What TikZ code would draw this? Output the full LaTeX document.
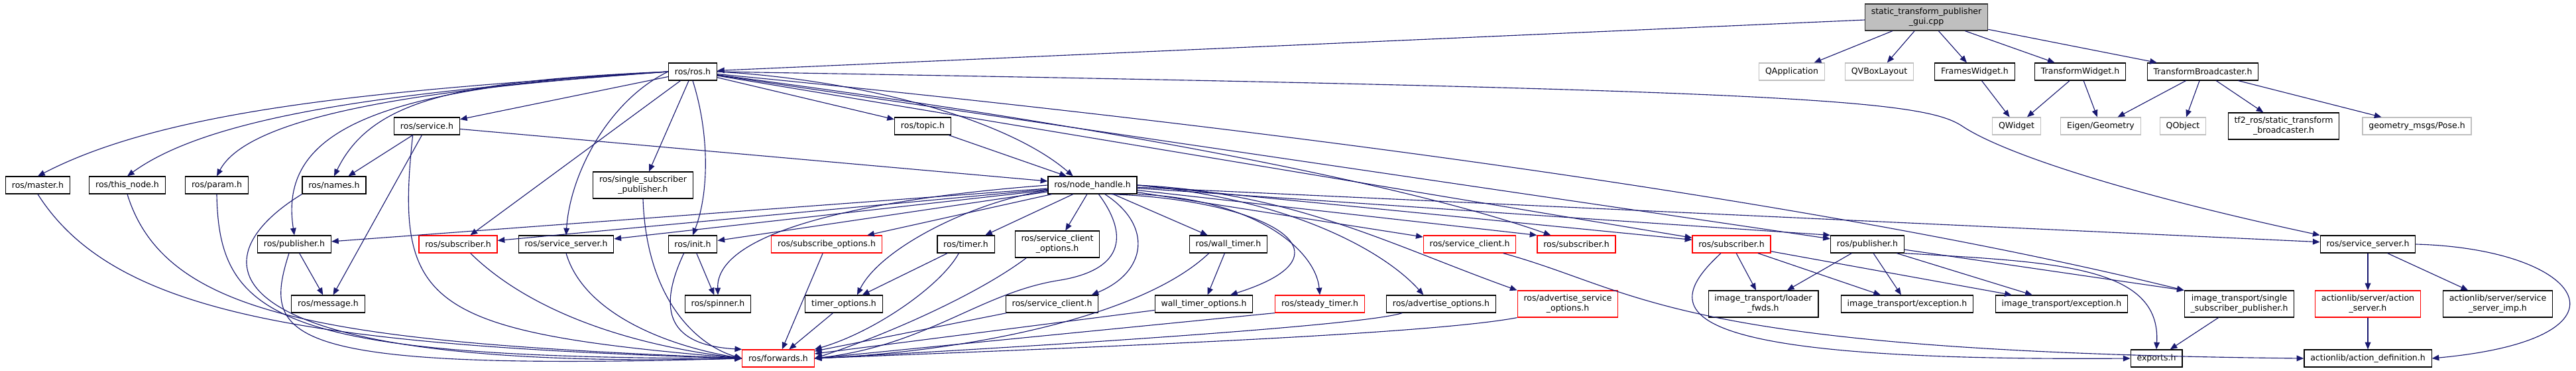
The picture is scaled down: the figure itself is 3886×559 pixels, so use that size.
\documentclass[tikz,border=0pt]{standalone}
\usepackage{fontspec}
\setmainfont{DejaVu Sans}
\usetikzlibrary{arrows.meta}
\definecolor{depblue}{HTML}{191970}
\definecolor{extgrey}{HTML}{BFBFBF}

\begin{document}
\begin{tikzpicture}[x=0.75pt, y=-0.75pt,
  hdr/.style={draw=black, line width=0.9pt, fill=white, inner xsep=7pt, inner ysep=1pt,
    minimum height=19.5pt, align=center, font=\fontsize{9.4}{11.5}\selectfont},
  hdrtwo/.style={hdr, minimum height=30pt},
  exthdr/.style={hdr, draw=extgrey},
  cuthdr/.style={hdr, draw=red},
  roothdr/.style={hdrtwo, fill=extgrey, draw=black!80},
  dep/.style={draw=depblue, line width=0.85pt, -{Triangle[length=8pt,width=6.5pt]}}]
  \useasboundingbox (0,0) rectangle (3886,559);

  \node[roothdr] (root) at (2906,26) {static\_transform\_publisher\\\_gui.cpp};
  \node[hdr] (ros) at (1045,108) {ros/ros.h};
  \node[exthdr] (qapp) at (2703,108) {QApplication};
  \node[exthdr] (qvbox) at (2835,108) {QVBoxLayout};
  \node[hdr] (frames) at (2979,108) {FramesWidget.h};
  \node[hdr] (twidget) at (3138,108) {TransformWidget.h};
  \node[hdr] (tbroad) at (3323,108) {TransformBroadcaster.h};

  \node[hdr] (service) at (644,190) {ros/service.h};
  \node[hdr] (topic) at (1392,190) {ros/topic.h};
  \node[exthdr] (qwidget) at (3042,190) {QWidget};
  \node[exthdr] (eigen) at (3169,190) {Eigen/Geometry};
  \node[exthdr] (qobject) at (3293,190) {QObject};
  \node[hdrtwo] (tfros) at (3445,190) {tf2\_ros/static\_transform\\\_broadcaster.h};
  \node[exthdr] (pose) at (3646,190) {geometry\_msgs/Pose.h};

  \node[hdr] (master) at (57,279) {ros/master.h};
  \node[hdr] (thisnode) at (192,279) {ros/this\_node.h};
  \node[hdr] (param) at (327,279) {ros/param.h};
  \node[hdr] (names) at (504,279) {ros/names.h};
  \node[hdrtwo] (singlesub) at (970,279) {ros/single\_subscriber\\\_publisher.h};
  \node[hdr] (nh) at (1648,279) {ros/node\_handle.h};

  \node[hdr] (pubL) at (444,368) {ros/publisher.h};
  \node[cuthdr] (subL) at (691,368) {ros/subscriber.h};
  \node[hdr] (ssrvL) at (854,368) {ros/service\_server.h};
  \node[hdr] (init) at (1045,368) {ros/init.h};
  \node[cuthdr] (subopt) at (1247,368) {ros/subscribe\_options.h};
  \node[hdr] (timer) at (1457,368) {ros/timer.h};
  \node[hdrtwo] (scliopt) at (1595,368) {ros/service\_client\\\_options.h};
  \node[hdr] (walltimer) at (1853,368) {ros/wall\_timer.h};
  \node[cuthdr] (scliR) at (2217,368) {ros/service\_client.h};
  \node[cuthdr] (subB) at (2378,368) {ros/subscriber.h};
  \node[cuthdr] (subC) at (2612,368) {ros/subscriber.h};
  \node[hdr] (pubR) at (2817,368) {ros/publisher.h};
  \node[hdr] (ssrvR) at (3572,368) {ros/service\_server.h};

  \node[hdr] (message) at (495,458) {ros/message.h};
  \node[hdr] (spinner) at (1083,458) {ros/spinner.h};
  \node[hdr] (timeropt) at (1273,458) {timer\_options.h};
  \node[hdr] (scli) at (1587,458) {ros/service\_client.h};
  \node[hdr] (walltopt) at (1816,458) {wall\_timer\_options.h};
  \node[cuthdr] (steady) at (1991,458) {ros/steady\_timer.h};
  \node[hdr] (advopt) at (2174,458) {ros/advertise\_options.h};
  \node[cuthdr, minimum height=30pt] (advsrvopt) at (2365,458) {ros/advertise\_service\\\_options.h};
  \node[hdrtwo] (loader) at (2660,458) {image\_transport/loader\\\_fwds.h};
  \node[hdr] (excA) at (2877,458) {image\_transport/exception.h};
  \node[hdr] (excB) at (3110,458) {image\_transport/exception.h};
  \node[hdrtwo] (itssp) at (3378,458) {image\_transport/single\\\_subscriber\_publisher.h};
  \node[cuthdr, minimum height=30pt] (actsrv) at (3572,458) {actionlib/server/action\\\_server.h};
  \node[hdrtwo] (srvimp) at (3768,458) {actionlib/server/service\\\_server\_imp.h};

  \node[cuthdr] (forwards) at (1174,540) {ros/forwards.h};
  \node[hdr] (exports) at (3253,540) {exports.h};
  \node[hdr] (actdef) at (3572,540) {actionlib/action\_definition.h};

  \draw[dep] (root) -- (ros);
  \draw[dep] (root) -- (qapp);
  \draw[dep] (root) -- (qvbox);
  \draw[dep] (root) -- (frames);
  \draw[dep] (root) -- (twidget);
  \draw[dep] (root) -- (tbroad);
  \draw[dep] (frames) -- (qwidget);
  \draw[dep] (twidget) -- (qwidget);
  \draw[dep] (twidget) -- (eigen);
  \draw[dep] (tbroad) -- (eigen);
  \draw[dep] (tbroad) -- (qobject);
  \draw[dep] (tbroad) -- (tfros);
  \draw[dep] (tbroad) -- (pose);

  \draw[dep] (ros.west) .. controls (600,135) and (260,160) .. (master.north);
  \draw[dep] (ros.west) .. controls (650,135) and (330,165) .. (thisnode.north);
  \draw[dep] (ros.west) .. controls (700,130) and (380,165) .. (param.north);
  \draw[dep] (ros.west) .. controls (690,122) and (560,150) .. (names.north);
  \draw[dep] (ros.west) .. controls (560,130) and (420,200) .. (pubL.north);
  \draw[dep] (ros) -- (service);
  \draw[dep] (ros) -- (subL);
  \draw[dep] (ros.west) .. controls (920,150) and (860,260) .. (ssrvL.north);
  \draw[dep] (ros) -- (singlesub);
  \draw[dep] (ros.south) .. controls (1070,200) and (1070,290) .. (init.north);
  \draw[dep] (ros) -- (topic);
  \draw[dep] (ros.east) .. controls (1300,120) and (1520,180) .. ([xshift=-22pt]nh.north);
  \draw[dep] (ros) .. controls (1600,180) and (2100,270) .. (subB);
  \draw[dep] (ros) -- (subC);
  \draw[dep] (ros) -- (pubR);
  \draw[dep] (ros) .. controls (2200,220) and (2900,340) .. (itssp.north west);
  \draw[dep] (ros.east) .. controls (2700,135) and (2900,150) .. (2960,190)
    .. controls (3020,230) and (3200,290) .. (ssrvR.north west);

  \draw[dep] (service) -- (nh);
  \draw[dep] (service) -- (names);
  \draw[dep] (service) -- (message);
  \draw[dep] (topic) -- (nh);
  \draw[dep] (pubL) -- (message);

  \draw[dep] (nh) -- (pubL);
  \draw[dep] (nh) -- (subL);
  \draw[dep] (nh) -- (ssrvL);
  \draw[dep] (nh) -- (init);
  \draw[dep] (nh) -- (subopt);
  \draw[dep] (nh) -- (timer);
  \draw[dep] (nh) -- (scliopt);
  \draw[dep] (nh) -- (walltimer);
  \draw[dep] (nh) -- (scliR);
  \draw[dep] (nh) -- (subB.north west);
  \draw[dep] (nh.east) -- ([yshift=5pt]subC.west);
  \draw[dep] (nh) -- (pubR.north west);
  \draw[dep] (nh) -- (ssrvR);
  \draw[dep] (nh.west) .. controls (1300,300) and (1080,350) .. (spinner.north);
  \draw[dep] (nh) .. controls (1480,300) and (1330,370) .. ([xshift=15pt]timeropt.north);
  \draw[dep] ([xshift=14pt]nh.south) .. controls (1740,340) and (1730,410) .. ([xshift=-8pt]scli.north east);
  \draw[dep] ([xshift=20pt]nh.south) .. controls (1900,300) and (2060,380) .. ([xshift=30pt]walltopt.north);
  \draw[dep] (nh.south east) .. controls (1900,300) and (1985,380) .. (steady.north);
  \draw[dep] (nh.east) .. controls (1950,300) and (2090,380) .. ([xshift=-20pt]advopt.north);
  \draw[dep] (nh.east) .. controls (1950,290) and (2100,370) .. (advsrvopt.north west);
  \draw[dep] ([xshift=7pt]nh.south) .. controls (1700,350) and (1700,405) .. (1600,422)
    .. controls (1480,440) and (1400,520) .. (forwards.east);

  \draw[dep] (master.south) .. controls (170,470) and (450,520) .. (forwards.west);
  \draw[dep] (thisnode.south) .. controls (250,480) and (500,515) .. (forwards.west);
  \draw[dep] (param.south) .. controls (330,480) and (420,540) .. (forwards.west);
  \draw[dep] (names.south west) .. controls (280,400) and (330,560) .. (forwards.west);
  \draw[dep] ([xshift=-6pt]pubL.south) .. controls (395,510) and (420,560) .. (forwards.west);
  \draw[dep] ([xshift=-16pt]service.south) .. controls (595,460) and (640,500) .. (forwards.west);
  \draw[dep] ([xshift=14pt]subL.south) .. controls (800,470) and (950,520) .. (forwards.west);
  \draw[dep] (ssrvL.south) .. controls (880,470) and (1000,520) .. (forwards.west);
  \draw[dep] (singlesub.south) .. controls (975,450) and (1050,520) .. (forwards.west);
  \draw[dep] ([xshift=-10pt]init.south) .. controls (990,470) and (1010,520) .. (forwards.north west);
  \draw[dep] (init) -- (spinner);
  \draw[dep] (subopt) -- (forwards);
  \draw[dep] (timer) -- (timeropt);
  \draw[dep] ([xshift=-8pt]timer.south) .. controls (1420,430) and (1320,500) .. (forwards.north east);
  \draw[dep] (timeropt) -- (forwards);
  \draw[dep] ([xshift=-35pt]scliopt.south) .. controls (1480,440) and (1350,500) .. (forwards.east);
  \draw[dep] (scli) -- (forwards);
  \draw[dep] (walltimer) -- (walltopt);
  \draw[dep] ([xshift=-22pt]walltimer.south) .. controls (1720,480) and (1450,530) .. (forwards.east);
  \draw[dep] (walltopt) -- (forwards);
  \draw[dep] (steady.south west) -- (forwards.east);
  \draw[dep] ([xshift=-44pt]advopt.south) .. controls (2060,490) and (1600,520) .. (forwards.east);
  \draw[dep] (advsrvopt.south west) .. controls (2150,505) and (1600,525) .. (forwards.east);

  \draw[dep] ([xshift=38pt]scliR.south) .. controls (2480,440) and (2520,530) .. (actdef.west);
  \draw[dep] (subC) -- (loader);
  \draw[dep] (subC) -- (excA);
  \draw[dep] (subC) -- (excB);
  \draw[dep] ([xshift=-12pt]subC.south) .. controls (2500,470) and (2510,545) .. (exports.west);
  \draw[dep] (pubR) -- (loader);
  \draw[dep] (pubR) -- (excA);
  \draw[dep] (pubR) -- (excB);
  \draw[dep] (pubR) -- (itssp.north west);
  \draw[dep] (pubR.south east) .. controls (3100,395) and (3260,400) .. (exports.north);
  \draw[dep] (itssp) -- (exports);
  \draw[dep] (ssrvR) -- (actsrv);
  \draw[dep] (ssrvR) -- (srvimp);
  \draw[dep] (ssrvR.east) .. controls (3900,375) and (3990,510) .. (actdef.east);
  \draw[dep] (actsrv) -- (actdef);
\end{tikzpicture}
\end{document}
